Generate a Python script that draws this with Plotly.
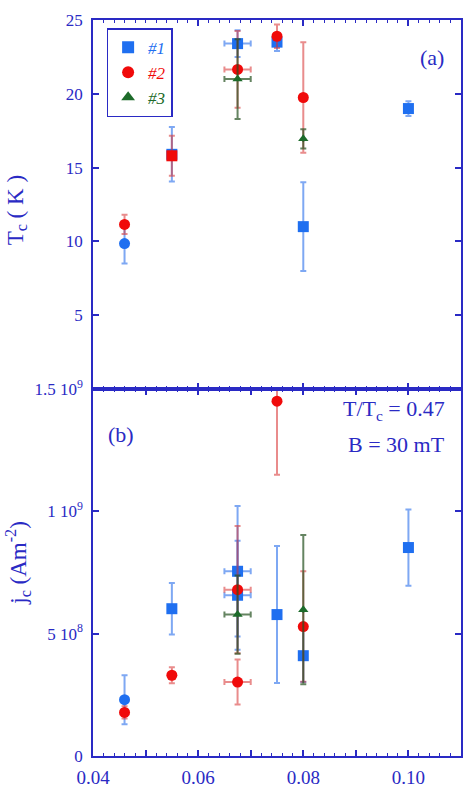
import plotly.graph_objects as go

# ---------------- data ----------------
# Panel (a): Tc (K) vs x
tc1_x = [0.046, 0.055, 0.0675, 0.075, 0.080, 0.100]
tc1_y = [9.85, 15.9, 23.4, 23.5, 11.0, 19.0]
tc1_e = [1.35, 1.85, 0.9, 0.6, 3.0, 0.5]
tc1_ex = [None, None, 0.0025, None, None, None]

tc2_x = [0.046, 0.055, 0.0675, 0.075, 0.080]
tc2_y = [11.15, 15.8, 21.65, 23.9, 19.75]
tc2_e = [0.65, 1.35, 2.6, 0.8, 3.75]
tc2_ex = [None, None, 0.0025, None, None]

tc3_x = [0.0675, 0.080]
tc3_y = [21.0, 16.95]
tc3_e = [2.7, 0.65]
tc3_ex = [0.0025, None]

# Panel (b): jc (A m^-2) vs x
jc1_x = [0.046, 0.055, 0.0675, 0.0675, 0.075, 0.080, 0.100]
jc1_y = [2.3e8, 6.02e8, 7.55e8, 6.57e8, 5.78e8, 4.1e8, 8.52e8]
jc1_e = [1.0e8, 1.05e8, 2.67e8, 2.23e8, 2.8e8, 1.08e8, 1.56e8]
jc1_ex = [None, None, 0.0025, 0.0025, None, None, None]

jc2_x = [0.046, 0.055, 0.0675, 0.0675, 0.075, 0.080]
jc2_y = [1.78e8, 3.3e8, 6.8e8, 3.02e8, 1.45e9, 5.29e8]
jc2_e = [0.25e8, 0.33e8, 2.6e8, 0.92e8, 3.0e8, 2.26e8]
jc2_ex = [None, None, 0.0025, 0.0025, None, None]

jc3_x = [0.0675, 0.080]
jc3_y = [5.78e8, 5.98e8]
jc3_e = [1.6e8, 3.05e8]
jc3_ex = [0.0025, None]

x_ticks = [0.04, 0.05, 0.06, 0.07, 0.08, 0.09, 0.10, 0.11]
x_ticktext = ["0.04", "", "0.06", "", "0.08", "", "0.10", ""]
tc_ticks = [5, 10, 15, 20, 25]
jc_ticks = [0, 5e8, 1e9, 1.5e9]
jc_ticktext = ["0", "5 10<sup>8</sup>", "1 10<sup>9</sup>", "1.5 10<sup>9</sup>"]

# ---------------- style ----------------
AX = "#2a2ac4"
FONT = "Liberation Serif"
C1, C2, C3 = "#1f6ff0", "#f00a0a", "#1d6b2a"
E1, E2, E3 = "rgba(40,110,235,0.6)", "rgba(215,45,45,0.55)", "rgba(35,80,30,0.7)"

sym1_tc = ["circle", "square", "square", "square", "square", "square"]
sym2_tc = ["circle", "square", "circle", "circle", "circle"]
sym1_jc = ["circle", "square", "square", "square", "square", "square", "square"]

fig = go.Figure()


def add(x, y, e, ex, color, ecolor, symbol, size, xa, ya):
    fig.add_trace(go.Scatter(
        x=x, y=y, mode="markers", xaxis=xa, yaxis=ya, showlegend=False,
        marker=dict(color=color, symbol=symbol, size=size, line=dict(width=0)),
        error_y=dict(type="data", array=e, color=ecolor, thickness=2, width=3),
        error_x=dict(type="data", array=ex, color=ecolor, thickness=2, width=3),
    ))


# top panel
add(tc1_x, tc1_y, tc1_e, tc1_ex, C1, E1, sym1_tc, 11, "x2", "y2")
add(tc2_x, tc2_y, tc2_e, tc2_ex, C2, E2, sym2_tc, 11, "x2", "y2")
add(tc3_x, tc3_y, tc3_e, tc3_ex, C3, E3, "triangle-up", 9, "x2", "y2")
# bottom panel
add(jc1_x, jc1_y, jc1_e, jc1_ex, C1, E1, sym1_jc, 11, "x", "y")
add(jc2_x, jc2_y, jc2_e, jc2_ex, C2, E2, "circle", 11, "x", "y")
add(jc3_x, jc3_y, jc3_e, jc3_ex, C3, E3, "triangle-up", 9, "x", "y")

# legend-only traces
for name, col, sym in [("#1", C1, "square"), ("#2", C2, "circle"), ("#3", C3, "triangle-up")]:
    fig.add_trace(go.Scatter(
        x=[None], y=[None], mode="markers", xaxis="x2", yaxis="y2",
        name=f"<i><span style='color:{col}'>{name}</span></i>",
        marker=dict(color=col, symbol=sym, size=8),
    ))

split = 367 / 736
axis_common = dict(showline=True, linecolor=AX, linewidth=1.5, ticks="inside",
                   tickcolor=AX, tickwidth=1.5, mirror="allticks", showgrid=False,
                   zeroline=False, automargin=False)

fig.update_layout(
    width=466, height=790,
    margin=dict(l=93, r=5, t=20, b=34),
    paper_bgcolor="white", plot_bgcolor="white",
    font=dict(family=FONT, color=AX),
    xaxis=dict(axis_common, range=[0.04, 0.11], tickvals=x_ticks, ticktext=x_ticktext,
               ticklen=6, anchor="y", ticklabelstandoff=3,
               tickfont=dict(family=FONT, size=19, color=AX),
               minor=dict(dtick=0.002, tick0=0.04, ticks="inside", ticklen=3,
                          tickcolor=AX, tickwidth=1)),
    xaxis2=dict(axis_common, range=[0.04, 0.11], tickvals=x_ticks, ticktext=x_ticktext,
                ticklen=6, anchor="y2", showticklabels=False, matches="x",
                minor=dict(dtick=0.002, tick0=0.04, ticks="inside", ticklen=3,
                           tickcolor=AX, tickwidth=1)),
    yaxis=dict(axis_common, domain=[0, split], range=[0, 1.5e9], tickvals=jc_ticks,
               ticktext=jc_ticktext, ticklen=6, anchor="x", ticklabelstandoff=5,
               tickfont=dict(family=FONT, size=17, color=AX)),
    yaxis2=dict(axis_common, domain=[split, 1], range=[0, 25], tickvals=tc_ticks,
                ticklen=6, anchor="x2", ticklabelstandoff=5,
                tickfont=dict(family=FONT, size=17, color=AX)),
    legend=dict(x=0.037, y=0.989, xanchor="left", yanchor="top",
                bordercolor=AX, borderwidth=1.5, bgcolor="white",
                font=dict(family=FONT, size=17), itemsizing="constant",
                tracegroupgap=0),
)

ann = dict(xref="paper", yref="paper", showarrow=False, xanchor="center",
           yanchor="middle", font=dict(family=FONT, size=22, color=AX))
title_font = dict(family=FONT, size=23, color=AX)
fig.add_annotation(ann, text="T<sub>c</sub> ( K )", x=-0.208, y=0.742, textangle=-90,
                   font=title_font)
fig.add_annotation(ann, text="j<sub>c</sub> (Am<sup>-2</sup>)", x=-0.205, y=0.262,
                   textangle=-90, font=title_font)
fig.add_annotation(ann, text="(a)", x=0.921, y=0.9497)
fig.add_annotation(ann, text="(b)", x=0.076, y=0.4375)
fig.add_annotation(ann, text="T/T<sub>c</sub> = 0.47", x=0.962, y=0.47, xanchor="right")
fig.add_annotation(ann, text="B = 30 mT", x=0.962, y=0.4226, xanchor="right")

fig.write_html("out.html")
